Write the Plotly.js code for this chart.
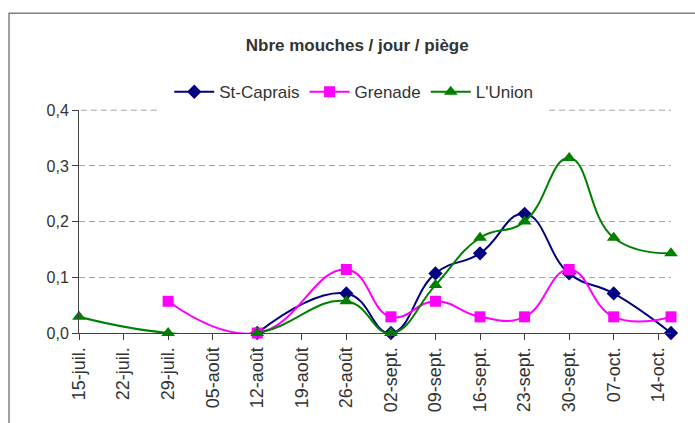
<!DOCTYPE html>
<html>
<head>
<meta charset="utf-8">
<script src="https://cdn.plot.ly/plotly-3.0.1.min.js"></script>
<style>
  body { margin: 0; background: #fff; }
  #myDiv { width: 695px; height: 423px; }
</style>
</head>
<body>
<div id="myDiv"></div>
<script>
// relevés (dates des points)
const dates = ['2008-07-15', '2008-07-29', '2008-08-12', '2008-08-26', '2008-09-02', '2008-09-09',
  '2008-09-16', '2008-09-23', '2008-09-30', '2008-10-07', '2008-10-16'];

const stCaprais = [null, null, 0, 0.071, 0, 0.107, 0.143, 0.214, 0.107, 0.071, 0];
const grenade = [null, 0.057, 0, 0.114, 0.029, 0.057, 0.029, 0.029, 0.114, 0.029, 0.029];
const lUnion = [0.029, 0, 0, 0.057, 0, 0.086, 0.171, 0.2, 0.314, 0.171, 0.143];

// graduations de l'axe des dates
const tickDates = ['2008-07-15', '2008-07-22', '2008-07-29', '2008-08-05', '2008-08-12', '2008-08-19',
  '2008-08-26', '2008-09-02', '2008-09-09', '2008-09-16', '2008-09-23', '2008-09-30', '2008-10-07', '2008-10-14'];
const tickLabels = ['15-juil.', '22-juil.', '29-juil.', '05-août', '12-août', '19-août', '26-août',
  '02-sept.', '09-sept.', '16-sept.', '23-sept.', '30-sept.', '07-oct.', '14-oct.'];

var font = 'Liberation Sans, Arial, sans-serif';

var trace1 = {
  x: dates,
  y: stCaprais,
  name: 'St-Caprais',
  type: 'scatter',
  mode: 'lines+markers',
  line: {color: '#000080', width: 2, shape: 'spline', smoothing: 1.3},
  marker: {symbol: 'diamond', size: 11, color: '#000080'},
  cliponaxis: false
}

var trace2 = {
  x: dates,
  y: grenade,
  name: 'Grenade',
  type: 'scatter',
  mode: 'lines+markers',
  line: {color: '#ff00ff', width: 2, shape: 'spline', smoothing: 1.3},
  marker: {symbol: 'square', size: 11, color: '#ff00ff'},
  cliponaxis: false
}

var trace3 = {
  x: dates,
  y: lUnion,
  name: "L'Union",
  type: 'scatter',
  mode: 'lines+markers',
  line: {color: '#008000', width: 2, shape: 'spline', smoothing: 1.3},
  marker: {symbol: 'triangle-up', size: 12, color: '#008000'},
  cliponaxis: false
}

var data = [trace1, trace2, trace3];

// ligne de grille du haut (0,4), masquée au milieu par la légende
var topGrid = {type: 'line', xref: 'paper', yref: 'paper', y0: 1, y1: 1,
  line: {color: '#a6a6a6', width: 1, dash: '6px,4px'}, layer: 'above'};

var layout = {
  width: 695,
  height: 423,
  autosize: false,
  separators: ', ',
  paper_bgcolor: '#fff',
  plot_bgcolor: '#fff',
  font: {family: font, size: 16, color: '#333333'},
  margin: {l: 79, r: 24, t: 108, b: 90},
  title: {
    text: '<b>Nbre mouches / jour / piège</b>',
    font: {family: font, size: 17, color: '#333333'},
    xref: 'container', x: 0.514, xanchor: 'center',
    yref: 'container', y: 0.894, yanchor: 'middle'
  },
  showlegend: true,
  legend: {
    orientation: 'h',
    xref: 'container', x: 0.509, xanchor: 'center',
    yref: 'container', y: 0.782, yanchor: 'middle',
    bgcolor: '#fff',
    itemwidth: 40,
    font: {family: font, size: 17, color: '#333333'}
  },
  xaxis: {
    type: 'date',
    range: ['2008-07-15', '2008-10-16'],
    tickmode: 'array',
    tickvals: tickDates,
    ticktext: tickLabels,
    tickangle: -90,
    ticks: 'outside',
    ticklen: 6,
    tickcolor: '#404040',
    showline: true,
    linecolor: '#404040',
    linewidth: 1,
    showgrid: false,
    zeroline: false,
    tickfont: {family: font, size: 18, color: '#333333'}
  },
  yaxis: {
    range: [0, 0.4],
    dtick: 0.1,
    tickformat: '.1f',
    ticks: 'outside',
    ticklen: 6,
    tickcolor: '#404040',
    showline: true,
    linecolor: '#404040',
    linewidth: 1,
    showgrid: true,
    gridcolor: '#a6a6a6',
    griddash: '6px,4px',
    zeroline: false,
    tickfont: {family: font, size: 16, color: '#333333'}
  },
  shapes: [
    {
      // cadre du graphique
      type: 'rect', xref: 'paper', yref: 'paper',
      x0: -0.1182, x1: 1.1, y0: -0.5, y1: 1.4356,
      line: {color: '#808080', width: 1.5},
      layer: 'below'
    },
    Object.assign({x0: 0.003, x1: 0.1334}, topGrid),
    Object.assign({x0: 0.794, x1: 1}, topGrid)
  ]
};

Plotly.newPlot('myDiv', data, layout, {displayModeBar: false, staticPlot: true});
</script>
</body>
</html>
